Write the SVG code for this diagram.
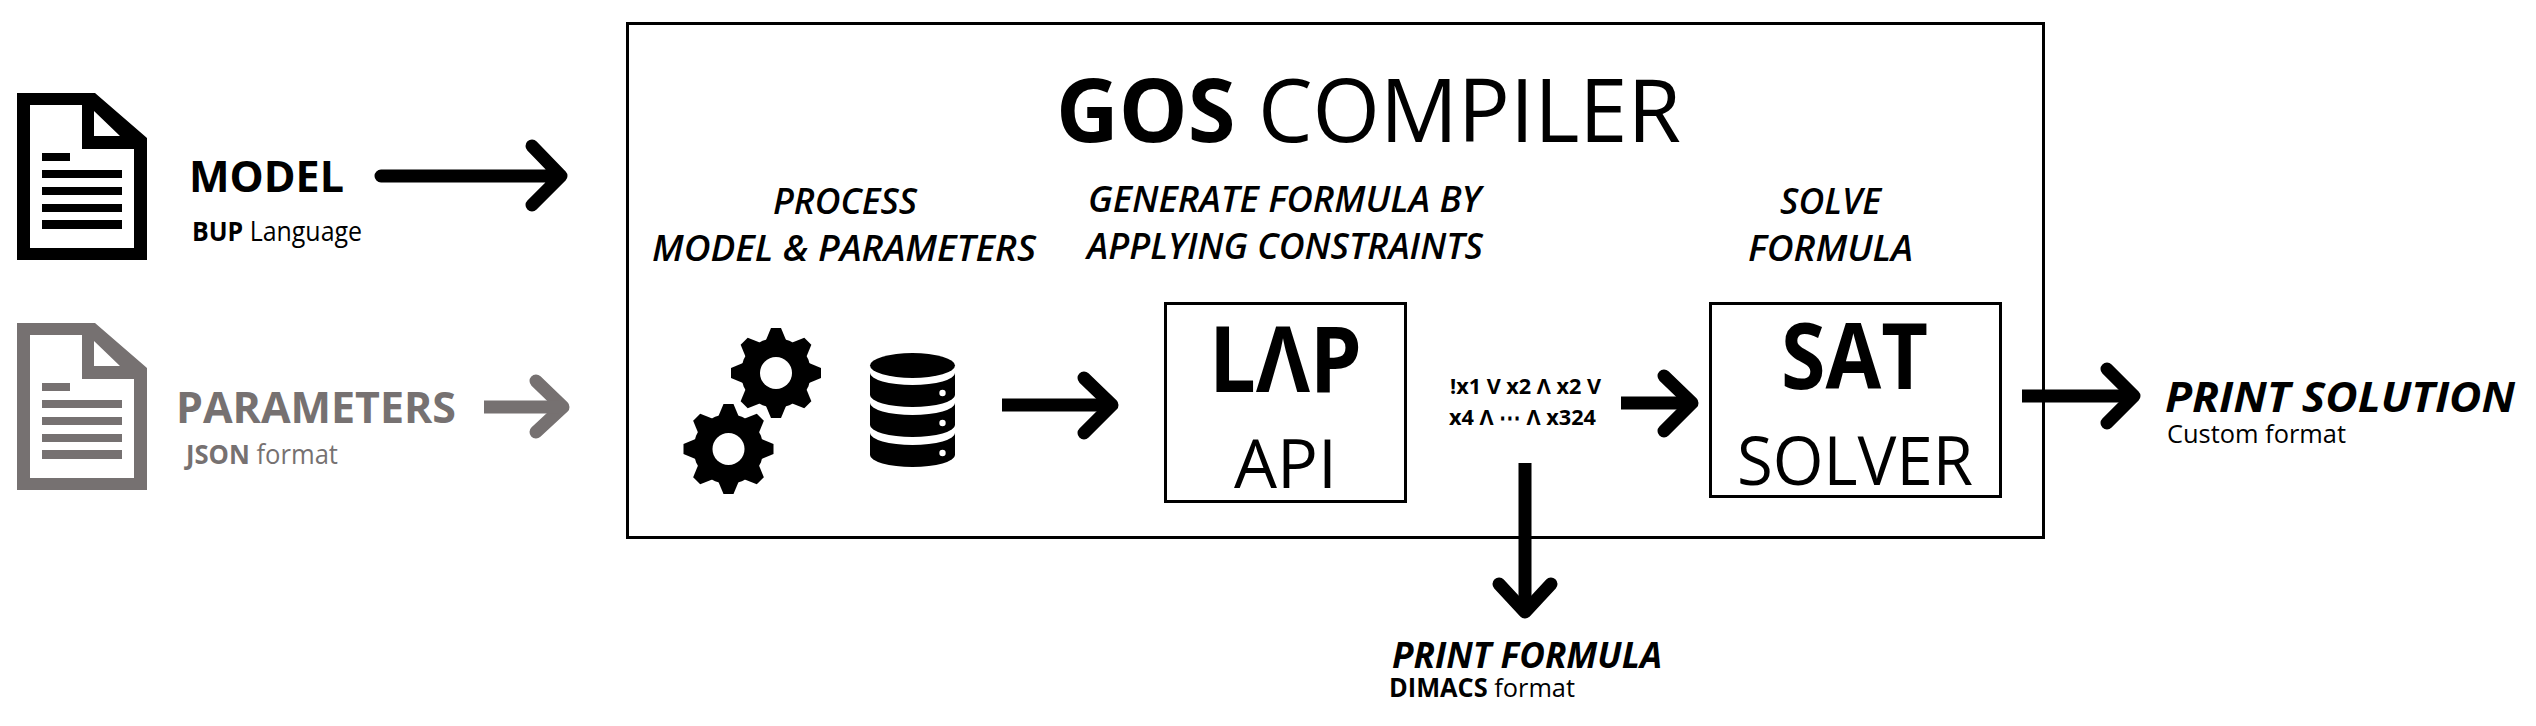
<svg xmlns="http://www.w3.org/2000/svg" xmlns:xlink="http://www.w3.org/1999/xlink" width="2536" height="726" viewBox="0 0 2536 726">
<style>
text{font-family:"Open Sans","Noto Sans","Liberation Sans",sans-serif;fill:#000}
.b{font-weight:700}.i{font-style:italic}
.g{fill:#767171}
.box{fill:none;stroke:#000;stroke-width:3}
.arr{fill:none;stroke-width:13;stroke-linejoin:round}
.head{fill:none;stroke-width:13;stroke-linecap:round;stroke-linejoin:round}
.h{font-size:36px;font-weight:600;font-style:italic}
</style>
<defs>
<g id="doc">
<path fill-rule="evenodd" d="M17 93H95L147 138V260H17ZM30 105V248H134V149H82V105ZM94 111V136H120Z"/>
<rect x="42" y="153" width="28" height="8"/>
<rect x="42" y="170" width="80" height="8"/>
<rect x="42" y="187" width="80" height="8"/>
<rect x="42" y="204" width="80" height="8"/>
<rect x="42" y="220" width="80" height="9"/>
</g>
<path id="tooth" d="M-10 -33L-5 -45H5L10 -33Z"/>
<g id="gear">
<circle r="35"/>
<use xlink:href="#tooth"/><use xlink:href="#tooth" transform="rotate(45)"/><use xlink:href="#tooth" transform="rotate(90)"/><use xlink:href="#tooth" transform="rotate(135)"/><use xlink:href="#tooth" transform="rotate(180)"/><use xlink:href="#tooth" transform="rotate(225)"/><use xlink:href="#tooth" transform="rotate(270)"/><use xlink:href="#tooth" transform="rotate(315)"/>
<circle r="16" fill="#fff"/>
</g>
<g id="band">
<path d="M870 373A42.500 12 0 0 0 955 373V395A42.500 12 0 0 1 870 395Z"/>
<circle cx="942.500" cy="393" r="3.200" fill="#fff"/>
</g>
</defs>

<g id="compiler">
<rect class="box" x="627.500" y="23.500" width="1416" height="514"/>
<text class="b" x="1056" y="142" font-size="87" textLength="625" lengthAdjust="spacingAndGlyphs">GOS <tspan font-weight="400">COMPILER</tspan></text>
<text class="h" x="773" y="214" textLength="144" lengthAdjust="spacingAndGlyphs">PROCESS</text>
<text class="h" x="652" y="261" textLength="384" lengthAdjust="spacingAndGlyphs">MODEL &amp; PARAMETERS</text>
<text class="h" x="1088" y="212" textLength="393" lengthAdjust="spacingAndGlyphs">GENERATE FORMULA BY</text>
<text class="h" x="1087" y="259" textLength="396" lengthAdjust="spacingAndGlyphs">APPLYING CONSTRAINTS</text>
<text class="h" x="1780" y="214" textLength="101" lengthAdjust="spacingAndGlyphs">SOLVE</text>
<text class="h" x="1748" y="261" textLength="165" lengthAdjust="spacingAndGlyphs">FORMULA</text>
</g>

<g id="model">
<use xlink:href="#doc"/>
<text class="b" x="189" y="192" font-size="43" textLength="155" lengthAdjust="spacingAndGlyphs">MODEL</text>
<text x="192" y="241" font-size="27" textLength="170" lengthAdjust="spacingAndGlyphs"><tspan class="b">BUP</tspan> Language</text>
</g>

<g id="parameters" fill="#767171">
<use xlink:href="#doc" y="230"/>
<text class="b g" x="176" y="423" font-size="43" textLength="280" lengthAdjust="spacingAndGlyphs">PARAMETERS</text>
<text class="g" x="186" y="464" font-size="27" textLength="152" lengthAdjust="spacingAndGlyphs"><tspan class="b">JSON</tspan> format</text>
</g>

<g id="process">
<use xlink:href="#gear" x="776" y="373"/>
<use xlink:href="#gear" x="728.500" y="449"/>
<path d="M870 365.500A42.500 12.500 0 0 1 955 365.500A42.500 12.500 0 0 1 870 365.500Z"/>
<use xlink:href="#band"/>
<use xlink:href="#band" y="30"/>
<use xlink:href="#band" y="60"/>
</g>

<g id="lap-api">
<rect class="box" x="1165.500" y="303.500" width="240" height="198"/>
<text class="b" x="1209" y="392" font-size="92" textLength="153" lengthAdjust="spacingAndGlyphs">LΛP</text>
<text x="1234" y="488" font-size="68" textLength="103" lengthAdjust="spacingAndGlyphs">API</text>
</g>

<g id="formula">
<text class="b" x="1450" y="394" font-size="22" textLength="151" lengthAdjust="spacingAndGlyphs">!x1 V x2 Λ x2 V</text>
<text class="b" x="1449" y="425" font-size="22" textLength="147" lengthAdjust="spacingAndGlyphs">x4 Λ ⋯ Λ x324</text>
</g>

<g id="sat-solver">
<rect class="box" x="1710.500" y="303.500" width="290" height="193"/>
<text class="b" x="1781" y="389" font-size="92" textLength="147" lengthAdjust="spacingAndGlyphs">SAT</text>
<text x="1737" y="485" font-size="67" textLength="236" lengthAdjust="spacingAndGlyphs">SOLVER</text>
</g>

<g id="print-solution">
<text class="b i" x="2165" y="412" font-size="42" textLength="350" lengthAdjust="spacingAndGlyphs">PRINT SOLUTION</text>
<text x="2167" y="443" font-size="26" textLength="179" lengthAdjust="spacingAndGlyphs">Custom format</text>
</g>

<g id="print-formula">
<text class="b i" x="1392" y="668" font-size="36" textLength="270" lengthAdjust="spacingAndGlyphs">PRINT FORMULA</text>
<text x="1389" y="697" font-size="26" textLength="186" lengthAdjust="spacingAndGlyphs"><tspan class="b">DIMACS</tspan> format</text>
</g>

<g id="connectors">
<g stroke="#000">
<path class="head" d="M381 176H560M532 146L561 176L532 205"/>
<path class="head" d="M1084 378L1112 405L1084 433"/>
<path class="arr" d="M1002 405H1108"/>
<path class="head" d="M1664 376L1692 403L1664 431"/>
<path class="arr" d="M1621 403H1688"/>
<path class="head" d="M2107 369L2134 396L2107 423"/>
<path class="arr" d="M2022 396H2130"/>
<path class="head" d="M1499 584L1525 612L1551 584"/>
<path class="arr" d="M1525 463V608"/>
</g>
<g stroke="#767171">
<path class="head" d="M536 381L563 407L536 432"/>
<path class="arr" d="M484 407H559"/>
</g>
</g>
</svg>
